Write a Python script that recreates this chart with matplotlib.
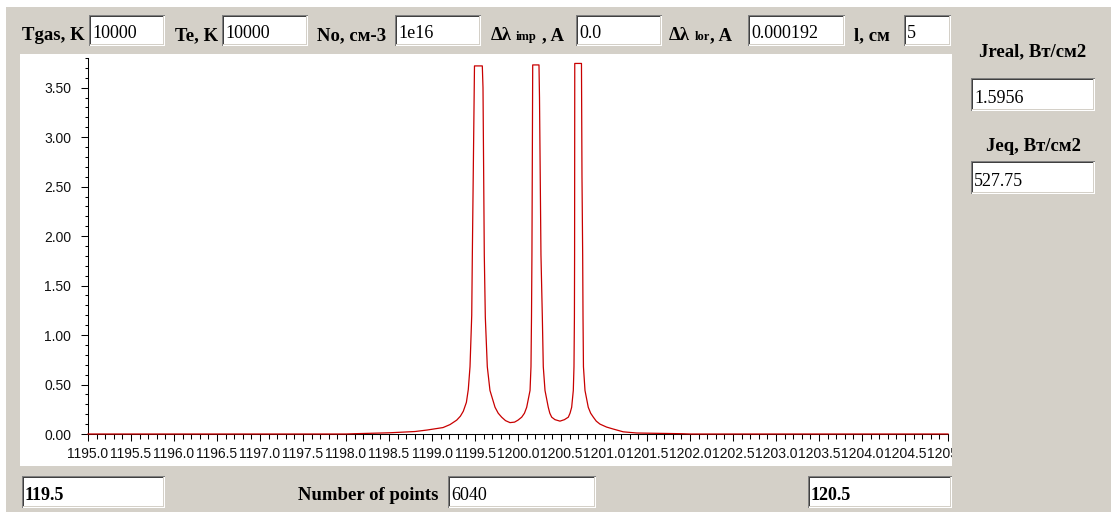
"""Line profile window: N I triplet near 1200 A with the parameter fields"""

import matplotlib

matplotlib.use("Agg")
import matplotlib.pyplot as plt
from matplotlib.patches import Rectangle
from matplotlib.ticker import FormatStrFormatter, MultipleLocator

WIDTH, HEIGHT = 1111, 512
GRAY = "#d4d0c8"
LINE_RED = "#c80000"
SERIF = "Liberation Serif"

# profile: wavelength (A) and intensity
wavelength = [
    1195.000, 1196.000, 1197.000, 1198.000, 1198.100, 1198.500, 1198.802,
    1198.942, 1199.128, 1199.209, 1199.287, 1199.330, 1199.364, 1199.400,
    1199.422, 1199.442, 1199.462, 1199.469, 1199.494, 1199.585, 1199.593,
    1199.608, 1199.620, 1199.643, 1199.674, 1199.733, 1199.770, 1199.810,
    1199.855, 1199.907, 1199.960, 1200.000, 1200.043, 1200.075, 1200.101,
    1200.140, 1200.151, 1200.157, 1200.162, 1200.171, 1200.244, 1200.250,
    1200.267, 1200.283, 1200.294, 1200.314, 1200.352, 1200.370, 1200.392,
    1200.430, 1200.488, 1200.540, 1200.585, 1200.605, 1200.624, 1200.643,
    1200.651, 1200.656, 1200.658, 1200.660, 1200.738, 1200.744, 1200.752,
    1200.756, 1200.761, 1200.779, 1200.817, 1200.845, 1200.876, 1200.910,
    1200.953, 1201.030, 1201.108, 1201.224, 1201.380, 1201.900, 1202.000,
    1203.000, 1204.000, 1205.000,
]
intensity = [
    0.000, 0.000, 0.000, 0.000, 0.003, 0.012, 0.025,
    0.040, 0.065, 0.095, 0.140, 0.180, 0.230, 0.320,
    0.450, 0.680, 1.200, 1.810, 3.720, 3.720, 3.500,
    1.810, 1.180, 0.680, 0.440, 0.270, 0.210, 0.170,
    0.135, 0.115, 0.120, 0.140, 0.170, 0.210, 0.270,
    0.440, 0.680, 1.180, 1.810, 3.730, 3.730, 3.400,
    1.810, 1.180, 0.680, 0.440, 0.270, 0.210, 0.170,
    0.145, 0.130, 0.145, 0.170, 0.210, 0.270, 0.440,
    0.680, 1.180, 1.810, 3.745, 3.745, 2.600, 1.810,
    1.180, 0.680, 0.440, 0.270, 0.210, 0.170, 0.130,
    0.100, 0.070, 0.050, 0.022, 0.010, 0.003, 0.000,
    0.000, 0.000, 0.000,
]

# parameter fields: caption and value
top_captions = ["Tgas, K", "Te, K", "No, см-3", None, None, "l, см"]
top_values = ["10000", "10000", "1e16", "0.0", "0.000192", "5"]
side_captions = ["Jreal, Вт/см2", "Jeq, Вт/см2"]
side_values = ["1.5956", "527.75"]
range_values = ["119.5", "120.5"]
points_caption = "Number of points"
points_value = "6040"

# pixel layout of the fields (x0, y0, x1, y1)
top_boxes = [(89, 15, 165, 46), (222, 15, 308, 46), (395, 15, 481, 46),
             (576, 15, 662, 46), (748, 15, 845, 46), (904, 15, 951, 46)]
top_caption_x = [22, 175, 317, None, None, 854]
side_boxes = [(971, 78, 1095, 111), (971, 161, 1095, 194)]
side_caption_y = [56, 151]
range_boxes = [(22, 476, 165, 508), (808, 476, 952, 508)]
points_box = (448, 476, 596, 508)


def _fx(x: float) -> float:
    return x / WIDTH


def _fy(y: float) -> float:
    return 1 - y / HEIGHT


def _rect(fig, x0, y0, x1, y1, color, zorder):
    """Filled rectangle given in window pixels (top-left origin)."""
    fig.add_artist(Rectangle((_fx(x0), _fy(y1)), (x1 - x0) / WIDTH,
                             (y1 - y0) / HEIGHT, transform=fig.transFigure,
                             facecolor=color, edgecolor="none", zorder=zorder))


def _label(fig, x, y, text, size=13.5, bold=True, ha="left"):
    fig.text(_fx(x), _fy(y), text, ha=ha, va="baseline", fontsize=size,
             family=SERIF, weight="bold" if bold else "normal",
             color="black", zorder=8)


def _edit_box(fig, box, value, bold=False):
    """Sunken white edit field with its text."""
    x0, y0, x1, y1 = box
    _rect(fig, x0, y0, x1, y1, "white", 6)
    _rect(fig, x0, y0, x1, y0 + 1, "#808080", 7)
    _rect(fig, x0, y0, x0 + 1, y1, "#808080", 7)
    _rect(fig, x0 + 1, y0 + 1, x1 - 1, y0 + 2, "#404040", 7)
    _rect(fig, x0 + 1, y0 + 1, x0 + 2, y1 - 1, "#404040", 7)
    _rect(fig, x0 + 1, y1 - 2, x1 - 1, y1 - 1, GRAY, 7)
    _rect(fig, x1 - 2, y0 + 1, x1 - 1, y1 - 1, GRAY, 7)
    _label(fig, x0 + 3, y1 - 8, value, size=13, bold=bold)


fig = plt.figure(figsize=(WIDTH / 100, HEIGHT / 100), dpi=100)
fig.patch.set_facecolor(GRAY)

# white chart panel behind the axes
_rect(fig, 20, 54, 952, 466, "white", -1)

ax = fig.add_axes([_fx(88), _fy(434), (948 - 88) / WIDTH, (434 - 58) / HEIGHT])
ax.set_facecolor("none")
ax.plot(wavelength, intensity, color=LINE_RED, lw=0.9, zorder=3, clip_on=False)
ax.set_xlim(1195.0, 1205.0)
ax.set_ylim(0, 3.8)
for side in ("top", "right"):
    ax.spines[side].set_visible(False)
for side in ("left", "bottom"):
    ax.spines[side].set_linewidth(0.75)
    ax.spines[side].set_color("black")

ax.xaxis.set_major_locator(MultipleLocator(0.5))
ax.xaxis.set_minor_locator(MultipleLocator(0.1))
ax.xaxis.set_major_formatter(FormatStrFormatter("%.1f"))
ax.yaxis.set_major_locator(MultipleLocator(0.5))
ax.yaxis.set_minor_locator(MultipleLocator(0.1))
ax.yaxis.set_major_formatter(FormatStrFormatter("%.2f"))
ax.tick_params(axis="both", which="both", direction="out", width=0.75,
               color="black", labelcolor="#111111", labelsize=10)
ax.tick_params(axis="x", which="major", length=5, pad=4)
ax.tick_params(axis="x", which="minor", length=3.5)
ax.tick_params(axis="y", which="major", length=5, pad=7)
ax.tick_params(axis="y", which="minor", length=2.5)
for lbl in ax.get_xticklabels() + ax.get_yticklabels():
    lbl.set_family("Liberation Sans")

# right-hand column covers whatever spills past the panel
_rect(fig, 952, 0, WIDTH, HEIGHT, GRAY, 4)
_rect(fig, 0, 0, WIDTH, 7, "white", 5)
_rect(fig, 0, 0, 6, HEIGHT, "white", 5)

for caption, cx, box, value in zip(top_captions, top_caption_x, top_boxes, top_values):
    if caption is not None:
        _label(fig, cx, 40, caption)
    _edit_box(fig, box, value)

# line-width captions with the small subscript part
_label(fig, 491, 40, "Δλ")
_label(fig, 516, 40, "imp", size=9)
_label(fig, 542, 40, ", A")
_label(fig, 669, 40, "Δλ")
_label(fig, 695, 40, "lor", size=9)
_label(fig, 710, 40, ", A")

for caption, cy, box, value in zip(side_captions, side_caption_y, side_boxes, side_values):
    _label(fig, 1033, cy, caption, ha="center")
    _edit_box(fig, box, value)

_edit_box(fig, range_boxes[0], range_values[0], bold=True)
_edit_box(fig, range_boxes[1], range_values[1], bold=True)
_label(fig, 298, 500, points_caption)
_edit_box(fig, points_box, points_value)

fig.savefig("out.png", dpi=100, facecolor=fig.get_facecolor())
